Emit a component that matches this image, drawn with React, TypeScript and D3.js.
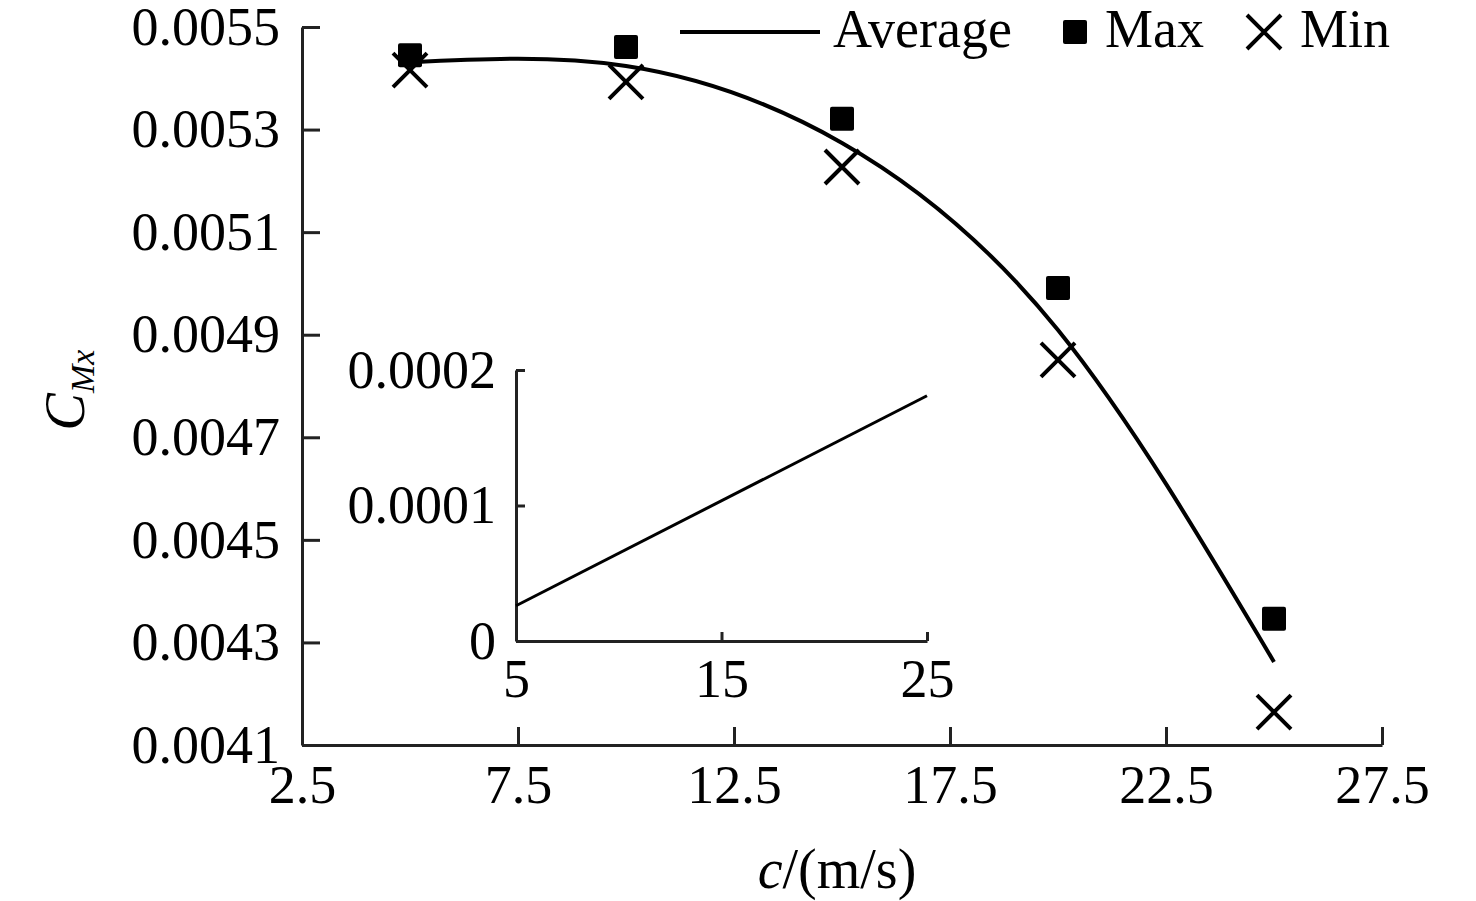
import { useEffect, useRef } from "react";
import * as d3 from "d3";

const speeds = [5, 10, 15, 20, 25];
const avgValues = [0.005431, 0.005424, 0.005274, 0.004909, 0.004262];
const maxValues = [0.005445, 0.005461, 0.005321, 0.004991, 0.004346];
const minValues = [0.005416, 0.005393, 0.005227, 0.004851, 0.004164];
const xTicks = [2.5, 7.5, 12.5, 17.5, 22.5, 27.5];
const yTicks = [0.0041, 0.0043, 0.0045, 0.0047, 0.0049, 0.0051, 0.0053, 0.0055];
const insetX = [5, 25];
const insetY = [0.000026, 0.000181];
const insetXTicks = [5, 15, 25];
const insetYTicks = [0, 0.0001, 0.0002];

const FONT = "'Liberation Serif', 'Times New Roman', serif";
const FS = 54;

export default function App() {
  const svgRef = useRef<SVGSVGElement | null>(null);

  useEffect(() => {
    const svg = d3.select(svgRef.current!);
    svg.selectAll("*").remove();

    const x = d3.scaleLinear().domain([2.5, 27.5]).range([302, 1382]);
    const y = d3.scaleLinear().domain([0.0041, 0.0055]).range([745, 27]);

    const main = svg.append("g");
    main.append("g")
      .attr("transform", "translate(0,745)")
      .call(d3.axisBottom(x).tickValues(xTicks).tickSizeInner(-18).tickSizeOuter(0).tickPadding(20).tickFormat(d3.format(".1f")));
    main.append("g")
      .attr("transform", "translate(302,0)")
      .call(d3.axisLeft(y).tickValues(yTicks).tickSizeInner(-18).tickSizeOuter(0).tickPadding(22).tickFormat(d3.format(".4f")));

    // inset
    const ix = d3.scaleLinear().domain([5, 25]).range([516, 927]);
    const iy = d3.scaleLinear().domain([0, 0.0002]).range([641, 370]);
    main.append("g")
      .attr("transform", "translate(0,641)")
      .call(d3.axisBottom(ix).tickValues(insetXTicks).tickSizeInner(-9).tickSizeOuter(0).tickPadding(18).tickFormat(d3.format("d")));
    main.append("g")
      .attr("transform", "translate(516,0)")
      .call(d3.axisLeft(iy).tickValues(insetYTicks).tickSizeInner(-9).tickSizeOuter(0).tickPadding(20).tickFormat((d) => (d === 0 ? "0" : d3.format(".4f")(d as number))));

    main.selectAll(".domain").attr("stroke", "#222").attr("stroke-width", 3);
    main.selectAll(".tick line").attr("stroke", "#222").attr("stroke-width", 3);
    main.selectAll(".tick text").attr("font-family", FONT).attr("font-size", FS).attr("fill", "#000");

    main.append("path")
      .datum(insetX.map((v, i) => [ix(v), iy(insetY[i])] as [number, number]))
      .attr("fill", "none").attr("stroke", "#000").attr("stroke-width", 3)
      .attr("d", d3.line());

    const avgLine = d3.line<number>().x((_, i) => x(speeds[i])).y((v) => y(v)).curve(d3.curveNatural);
    main.append("path").datum(avgValues).attr("fill", "none").attr("stroke", "#000").attr("stroke-width", 4).attr("d", avgLine);

    main.selectAll("rect.max").data(maxValues).enter().append("rect")
      .attr("x", (_, i) => x(speeds[i]) - 12).attr("y", (v) => y(v) - 12)
      .attr("width", 24).attr("height", 24).attr("rx", 2).attr("fill", "#000");

    const cross = (g: d3.Selection<SVGGElement, unknown, null, undefined>, cx: number, cy: number, r: number) => {
      g.append("path")
        .attr("d", `M${cx - r},${cy - r}L${cx + r},${cy + r}M${cx - r},${cy + r}L${cx + r},${cy - r}`)
        .attr("stroke", "#000").attr("stroke-width", 4).attr("fill", "none");
    };
    const mins = main.append("g");
    minValues.forEach((v, i) => cross(mins, x(speeds[i]), y(v), 17));

    // legend
    const lg = main.append("g").attr("font-family", FONT).attr("font-size", FS);
    lg.append("line").attr("x1", 680).attr("x2", 820).attr("y1", 32).attr("y2", 32).attr("stroke", "#000").attr("stroke-width", 4);
    lg.append("text").attr("x", 833).attr("y", 47).text("Average");
    lg.append("rect").attr("x", 1063).attr("y", 20).attr("width", 24).attr("height", 24).attr("rx", 2);
    lg.append("text").attr("x", 1105).attr("y", 47).text("Max");
    cross(lg as any, 1264, 32, 17);
    lg.append("text").attr("x", 1300).attr("y", 47).text("Min");

    // axis titles
    const xt = main.append("text").attr("x", 837).attr("y", 888).attr("text-anchor", "middle").attr("font-family", FONT).attr("font-size", 56);
    xt.append("tspan").attr("font-style", "italic").text("c");
    xt.append("tspan").text("/(m/s)");
    const yt = main.append("text").attr("transform", "translate(84,390) rotate(-90)").attr("text-anchor", "middle").attr("font-family", FONT).attr("font-style", "italic").attr("font-size", 56);
    yt.append("tspan").text("C");
    yt.append("tspan").attr("font-size", 34).attr("dy", 10).text("Mx");
  }, []);

  return (
    <svg ref={svgRef} width={1476} height={901} style={{ position: "absolute", left: 0, top: 0, background: "#fff" }} />
  );
}
